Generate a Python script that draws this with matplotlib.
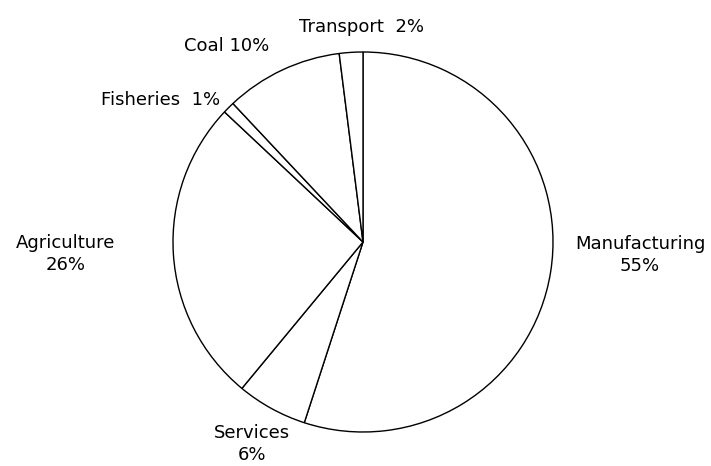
import matplotlib.pyplot as plt

labels = ['Manufacturing', 'Services', 'Agriculture', 'Fisheries', 'Coal', 'Transport']
shares = [55, 6, 26, 1, 10, 2]

# label spots in pie units (radius 1, centre 0,0) and how each label is written
label_pos = [(1.458, -0.068), (-0.584, -1.063), (-1.563, -0.063),
             (-1.063, 0.747), (-0.716, 1.03), (-0.01, 1.13)]
label_fmt = ['{}\n{}%', '{}\n{}%', '{}\n{}%', '{}  {}%', '{} {}%', '{}  {}%']

W, H = 711, 466
cx, cy, r = 363, 242, 190

fig = plt.figure(figsize=(W / 100, H / 100), dpi=100)
ax = fig.add_axes([0, 0, 1, 1])

wedges, _ = ax.pie(shares, startangle=90, counterclock=False,
                   colors=['white'] * len(shares),
                   wedgeprops=dict(edgecolor='black', linewidth=1.0))

for name, val, (x, y), fmt in zip(labels, shares, label_pos, label_fmt):
    ax.text(x, y, fmt.format(name, val), ha='center', va='center',
            fontsize=13, family='DejaVu Sans', linespacing=1.3)

ax.set_aspect('auto')
ax.set_xlim(-cx / r, (W - cx) / r)
ax.set_ylim(-(H - cy) / r, cy / r)
ax.axis('off')

fig.savefig('out.png', dpi=100, facecolor='white')
